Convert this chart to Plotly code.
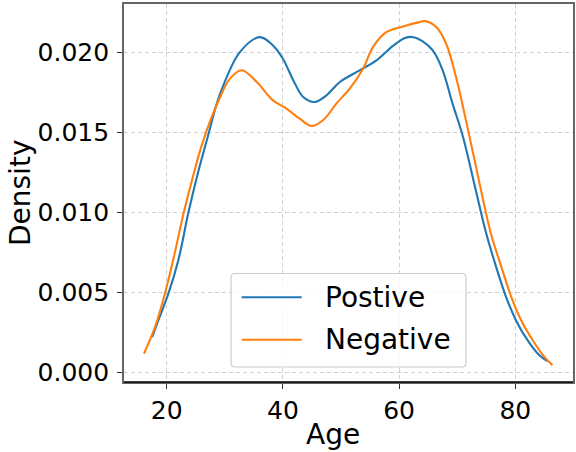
import plotly.graph_objects as go

# ---- data ----
pos_age = [17.5, 18.3, 20.3, 22.0, 23.7, 25.2, 26.9, 29.2, 32.6, 36.0, 38.3, 40.0, 41.8, 43.5,
           45.5, 47.5, 49.8, 53.2, 56.1, 59.0, 61.0, 62.5, 64.0, 65.8, 67.5, 69.2, 71.0,
           73.2, 75.0, 76.7, 78.4, 80.1, 82.1, 84.1, 85.5]
pos_den = [0.0022, 0.0030, 0.00493, 0.0070, 0.00992, 0.0122, 0.01449, 0.0174, 0.0200, 0.02093,
           0.02041, 0.01958, 0.01823, 0.01719, 0.01688, 0.0173, 0.01813, 0.01886, 0.01948,
           0.0204, 0.02088, 0.02093, 0.02068, 0.0201, 0.01886, 0.01678, 0.0147, 0.01137,
           0.00867, 0.00659, 0.00472, 0.00326, 0.00201, 0.00108, 0.0007]

neg_age = [16.1, 18.0, 19.7, 21.1, 22.9, 24.5, 26.3, 29.2, 30.9, 32.9, 35.5, 38.3, 40.6, 42.9,
           44.9, 46.9, 49.2, 51.5, 53.8, 55.5, 57.8, 60.7, 63.5, 64.5, 66.4, 68.1, 69.8,
           71.5, 73.0, 74.1, 75.8, 77.6, 79.3, 81.0, 83.0, 85.0, 86.4]
neg_den = [0.00118, 0.00284, 0.00493, 0.0070, 0.00992, 0.0122, 0.01449, 0.01719, 0.01834,
           0.01886, 0.01813, 0.01698, 0.01647, 0.01584, 0.01538, 0.01574, 0.01678, 0.01771,
           0.01896, 0.02031, 0.02124, 0.0216, 0.02187, 0.02193, 0.02156, 0.02052, 0.01844,
           0.01574, 0.01324, 0.01137, 0.00867, 0.00659, 0.00472, 0.00326, 0.00201, 0.00097,
           0.00045]

series_names = ["Postive", "Negative"]
series_colors = ["#1f77b4", "#ff7f0e"]
x_ticks = [20, 40, 60, 80]
y_ticks = [0.0, 0.005, 0.010, 0.015, 0.020]
x_title = "Age"
y_title = "Density"

FONT = "DejaVu Sans"
W, H = 576, 452
L, R, T, B = 124, 3, 4, 70
PW, PH = W - L - R, H - T - B


def px_x(p):
    return (p - L) / PW


def px_y(p):
    return (H - B - p) / PH


fig = go.Figure()
for ages, dens, name, col in [(pos_age, pos_den, series_names[0], series_colors[0]),
                              (neg_age, neg_den, series_names[1], series_colors[1])]:
    fig.add_trace(go.Scatter(x=ages, y=dens, mode="lines", name=name,
                             line=dict(color=col, width=2.1, shape="spline", smoothing=1.0),
                             showlegend=False))

axis_common = dict(showline=True, linecolor="#666666", linewidth=1.6, mirror=True,
                   showgrid=True, gridcolor="#d0d0d0", gridwidth=1, griddash="4px,3px",
                   zeroline=False, ticks="outside", ticklen=5, tickwidth=1.2,
                   tickcolor="#333333", tickfont=dict(family=FONT, size=25, color="black"))

fig.update_xaxes(range=[12.65, 89.93], tickvals=x_ticks,
                 ticktext=[str(v) for v in x_ticks], **axis_common)
fig.update_yaxes(range=[-0.0006, 0.0230], tickvals=y_ticks,
                 ticktext=[f"{v:.3f}" for v in y_ticks], ticklabelstandoff=3, **axis_common)

shapes = []
# darker bottom spine
shapes.append(dict(type="line", xref="paper", yref="paper", x0=0, x1=1, y0=0, y1=0,
                   line=dict(color="black", width=1.6), layer="above"))
# legend frame (rounded)
x0, x1 = px_x(231), px_x(466)
y0, y1 = px_y(367), px_y(273.5)
rx, ry = 4 / PW, 4 / PH
path = (f"M {x0+rx},{y1} L {x1-rx},{y1} Q {x1},{y1} {x1},{y1-ry} "
        f"L {x1},{y0+ry} Q {x1},{y0} {x1-rx},{y0} L {x0+rx},{y0} "
        f"Q {x0},{y0} {x0},{y0+ry} L {x0},{y1-ry} Q {x0},{y1} {x0+rx},{y1} Z")
shapes.append(dict(type="path", xref="paper", yref="paper", path=path,
                   fillcolor="rgba(255,255,255,0.8)", line=dict(color="#cccccc", width=1.2),
                   layer="above"))
annotations = []
for i, (name, col) in enumerate(zip(series_names, series_colors)):
    yy = px_y(297.3 + i * 42.4)
    shapes.append(dict(type="line", xref="paper", yref="paper", x0=px_x(241.7), x1=px_x(301.7),
                       y0=yy, y1=yy, line=dict(color=col, width=2.1), layer="above"))
    annotations.append(dict(text=name, xref="paper", yref="paper", x=px_x(323), y=yy,
                            xanchor="left", yanchor="middle", showarrow=False,
                            font=dict(family=FONT, size=28, color="black")))

annotations.append(dict(text=x_title, xref="paper", yref="paper", x=px_x(333), y=px_y(452),
                        xanchor="center", yanchor="bottom", showarrow=False, borderpad=0,
                        font=dict(family=FONT, size=28, color="black")))
annotations.append(dict(text=y_title, xref="paper", yref="paper", x=px_x(20), y=px_y(193),
                        xanchor="center", yanchor="middle", showarrow=False, textangle=-90,
                        font=dict(family=FONT, size=28, color="black")))

fig.update_layout(width=W, height=H, margin=dict(l=L, r=R, t=T, b=B, autoexpand=False),
                  paper_bgcolor="white", plot_bgcolor="white",
                  font=dict(family=FONT, color="black"),
                  shapes=shapes, annotations=annotations, showlegend=False)

fig.write_html("out.html", config={"displayModeBar": False},
               post_script="document.body.style.margin='0';document.body.style.padding='0';")
